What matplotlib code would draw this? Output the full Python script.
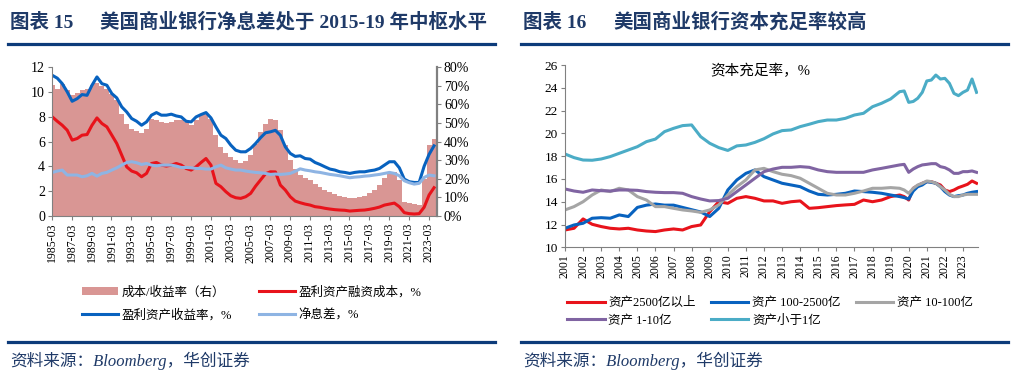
import numpy as np
import matplotlib.pyplot as plt
from matplotlib.lines import Line2D
from matplotlib.patches import Patch

plt.rcParams['font.family'] = ['Liberation Serif', 'Noto Sans CJK SC']

# ======================
# 1. DATA - left chart (half-yearly, 1985 - 2023)
# ======================
periods_l = 1985.2 + 0.5 * np.arange(78)

yield_rate = [11.33, 11.1, 10.66, 10.0, 9.24, 9.45, 9.78, 9.72, 10.53, 11.2,
              10.66, 10.53, 9.86, 9.51, 8.79, 8.38, 7.85, 7.63, 7.31, 7.58,
              8.12, 8.33, 8.12, 8.12, 8.2, 8.06, 7.98, 7.63, 7.58, 7.98,
              8.17, 8.33, 7.9, 7.18, 6.51, 6.24, 5.71, 5.3, 5.17, 5.17,
              5.44, 5.84, 6.3, 6.7, 6.78, 6.9, 6.5, 5.57, 5.04, 4.8,
              4.85, 4.63, 4.58, 4.31, 4.15, 3.96, 3.78, 3.7, 3.56, 3.51,
              3.43, 3.51, 3.56, 3.56, 3.64, 3.7, 3.83, 4.1, 4.37, 4.37,
              3.88, 2.97, 2.76, 2.7, 2.7, 4.0, 4.96, 5.65]

funding_cost = [7.98, 7.63, 7.31, 6.91, 6.11, 6.24, 6.51, 6.56, 7.31, 7.9,
                7.45, 7.18, 6.51, 5.84, 4.9, 3.96, 3.62, 3.48, 3.16, 3.43,
                4.23, 4.31, 4.1, 4.02, 4.1, 4.23, 4.1, 3.83, 3.7, 3.96,
                4.31, 4.63, 4.1, 2.63, 2.36, 1.96, 1.63, 1.47, 1.42, 1.55,
                1.82, 2.4, 2.9, 3.4, 3.56, 3.55, 2.49, 2.09, 1.55, 1.2,
                1.07, 0.96, 0.88, 0.75, 0.7, 0.62, 0.56, 0.51, 0.48, 0.46,
                0.4, 0.43, 0.46, 0.48, 0.54, 0.62, 0.72, 0.88, 0.96, 1.04,
                0.75, 0.27, 0.19, 0.16, 0.19, 0.7, 1.69, 2.28]

nim = [3.51, 3.62, 3.7, 3.3, 3.3, 3.3, 3.16, 3.24, 3.43, 3.21,
       3.43, 3.51, 3.7, 3.88, 4.1, 4.31, 4.37, 4.29, 4.15, 4.23,
       4.1, 4.04, 4.1, 4.1, 4.1, 4.02, 3.91, 3.91, 3.88, 3.83,
       3.83, 3.78, 3.78, 3.96, 4.1, 3.88, 3.78, 3.7, 3.7, 3.62,
       3.56, 3.51, 3.48, 3.43, 3.35, 3.38, 3.35, 3.38, 3.43, 3.6,
       3.8, 3.7, 3.64, 3.56, 3.51, 3.43, 3.35, 3.3, 3.24, 3.16,
       3.08, 3.13, 3.16, 3.21, 3.24, 3.3, 3.35, 3.43, 3.51, 3.43,
       3.24, 2.84, 2.68, 2.57, 2.63, 3.1, 3.3, 3.24]

cost_ratio = [70.5, 68.4, 71.1, 67.5, 65.2, 66.2, 67.5, 68, 70.2, 71.4,
              69.8, 68.4, 65.7, 62.1, 55, 49.6, 46.6, 45.5, 44.8, 46.6,
              52, 51.4, 50.5, 50.2, 50.5, 51.4, 51.4, 50.5, 49.1, 51.4,
              54.1, 55, 52.3, 43.4, 37.1, 33.6, 31.8, 30, 28.7, 29.5,
              32.7, 38.9, 45.2, 49.6, 52, 51.4, 46, 38, 30, 25.5,
              22, 20.2, 19.3, 17, 15.7, 13.9, 12.7, 11.6, 10.9, 10.4,
              9.8, 9.8, 10.2, 10.9, 12.1, 13.9, 16.6, 20.2, 23.4, 23.8,
              19.3, 7.7, 6.8, 6.25, 5.9, 20, 38, 41.6]

tick_years_l = list(range(1985, 2024, 2))

# ======================
# 2. DATA - right chart (capital adequacy ratio, %)
# ======================
periods_r = [2001.0 + 0.5 * i for i in range(38)] + [2019.75 + 0.25 * i for i in range(17)]

car_above_2500 = [11.52, 11.67, 12.49, 12.02, 11.82, 11.67, 11.61, 11.67, 11.52, 11.43,
                  11.38, 11.52, 11.61, 11.52, 11.82, 11.96, 13.13, 14.0, 13.86, 14.3,
                  14.45, 14.3, 14.07, 14.07, 13.86, 14.0, 14.07, 13.42, 13.48, 13.57,
                  13.66, 13.72, 13.77, 14.15, 14.0, 14.15, 14.45, 14.59,
                  14.45, 14.15, 15.18, 15.41, 15.62, 15.76, 15.76, 15.62, 15.47,
                  15.03, 14.89, 15.03, 15.24, 15.38, 15.53, 15.82, 15.62]

car_100_2500 = [11.67, 11.96, 12.11, 12.55, 12.6, 12.55, 12.84, 12.7, 13.5, 13.7,
                13.8, 13.7, 13.7, 13.5, 13.3, 13.1, 12.7, 13.42, 15.03, 15.91,
                16.49, 16.79, 16.2, 15.91, 15.62, 15.47, 15.32, 14.94, 14.65, 14.59,
                14.65, 14.74, 14.94, 14.89, 14.83, 14.74, 14.59, 14.45,
                14.36, 14.24, 14.94, 15.32, 15.47, 15.76, 15.7, 15.62, 15.32,
                14.89, 14.59, 14.45, 14.53, 14.59, 14.74, 14.83, 14.89]

car_10_100 = [13.28, 13.57, 14.0, 14.59, 15.03, 14.89, 15.18, 15.03, 14.45, 14.15,
              13.57, 13.57, 13.42, 13.28, 13.19, 13.07, 13.28, 13.72, 14.59, 15.32,
              15.91, 16.79, 16.93, 16.64, 16.41, 16.29, 16.06, 15.62, 15.18, 14.74,
              14.59, 14.59, 14.74, 14.94, 15.18, 15.18, 15.24, 15.18,
              15.03, 14.74, 15.18, 15.47, 15.62, 15.82, 15.76, 15.62, 15.32,
              15.03, 14.65, 14.45, 14.45, 14.59, 14.65, 14.65, 14.65]

car_1_10 = [15.12, 14.94, 14.83, 15.03, 14.97, 14.94, 15.03, 15.03, 15.0, 14.89,
            14.83, 14.8, 14.8, 14.74, 14.45, 14.24, 14.07, 14.1, 14.3, 14.89,
            15.47, 16.06, 16.64, 16.87, 17.02, 17.02, 17.08, 17.02, 16.79, 16.64,
            16.58, 16.58, 16.58, 16.58, 16.79, 16.93, 17.08, 17.23,
            17.28, 16.58, 16.87, 17.08, 17.23, 17.28, 17.34, 17.34, 17.08,
            16.99, 16.79, 16.49, 16.49, 16.64, 16.64, 16.7, 16.58]

car_below_1 = [18.19, 17.87, 17.66, 17.64, 17.75, 17.96, 18.25, 18.54, 18.83, 19.27,
               19.5, 20.15, 20.44, 20.68, 20.74, 19.71, 19.13, 18.75, 18.5, 18.9,
               18.98, 19.21, 19.53, 19.95, 20.24, 20.3, 20.59, 20.8, 21.03, 21.17,
               21.17, 21.32, 21.61, 21.76, 22.34, 22.64, 23.02, 23.66,
               23.72, 22.72, 22.8, 23.08, 23.6, 24.6, 24.68, 25.12, 24.77,
               24.83, 24.39, 23.51, 23.31, 23.6, 23.8, 24.77, 23.6]

tick_years_r = list(range(2001, 2024))

# ======================
# 3. STYLE
# ======================
W, H = 1022, 383
NAVY = '#1F3A68'
RULE = '#0D3B7A'
AREA_C = '#D99694'
RED = '#E8131B'
BLUE = '#0862BF'
LBLUE = '#8EB4E3'
GRAY = '#A5A5A5'
PURPLE = '#8064A2'
TEAL = '#4BACC6'
SPINE = '#808080'
LW = 2.2

fig = plt.figure(figsize=(W / 100, H / 100), dpi=100)


def fx(px):
    return px / W


def fy(py):
    return 1 - py / H


# headers, rules, sources
for x0, x1, num, title, tx in [(10, 495, '图表 15', '美国商业银行净息差处于 2015-19 年中枢水平', 100),
                              (523, 1008, '图表 16', '美国商业银行资本充足率较高', 613)]:
    fig.text(fx(x0), fy(22), num, fontsize=14, fontweight='bold', color=NAVY, va='center', ha='left')
    fig.text(fx(tx), fy(22), title, fontsize=14, fontweight='bold', color=NAVY, va='center', ha='left')
    fig.add_artist(Line2D([fx(x0 - 2), fx(x1)], [fy(44), fy(44)], color=RULE, lw=2.3))
    fig.add_artist(Line2D([fx(x0 - 2), fx(x1)], [fy(341.5), fy(341.5)], color=RULE, lw=2.3))
    fig.text(fx(x0), fy(361), '资料来源：Bloomberg，华创证券', fontsize=12, style='italic',
             color=NAVY, va='center', ha='left')

# ======================
# 4. LEFT CHART
# ======================
ax = fig.add_axes([fx(52), fy(216), fx(437 - 52), (216 - 67) / H])
ax2 = ax.twinx()
ax2.bar(periods_l, cost_ratio, width=0.5, color=AREA_C, linewidth=0)
ax.set_zorder(ax2.get_zorder() + 1)
ax.patch.set_visible(False)

ax.plot(periods_l, funding_cost, color=RED, lw=LW)
ax.plot(periods_l, yield_rate, color=BLUE, lw=LW)
ax.plot(periods_l, nim, color=LBLUE, lw=LW)

ax.set_xlim(1985.17, 2024.0)
ax.set_ylim(0, 12)
ax.set_yticks(range(0, 13, 2))
ax2.set_ylim(0, 80)
ax2.set_yticks(range(0, 81, 10))
ax2.set_yticklabels([f'{v}%' for v in range(0, 81, 10)])
ax.set_xticks([y + 2 / 12 for y in tick_years_l])
ax.set_xticklabels([f'{y}-03' for y in tick_years_l], rotation=90, fontsize=8.5)

for a in (ax, ax2):
    a.spines['top'].set_visible(False)
    for s in ('left', 'right', 'bottom'):
        a.spines[s].set_color(SPINE)
ax.spines['right'].set_visible(False)
ax2.spines['left'].set_visible(False)
ax2.spines['bottom'].set_visible(False)
ax2.spines['right'].set_linewidth(1.6)
ax.tick_params(axis='y', labelsize=10, length=3, color=SPINE, pad=2)
ax.tick_params(axis='x', length=3, color=SPINE, pad=2)
ax2.tick_params(axis='y', labelsize=10, length=3, color=SPINE, pad=2)

handles_l = [Patch(facecolor=AREA_C, edgecolor='none'),
             Line2D([], [], color=BLUE, lw=LW),
             Line2D([], [], color=RED, lw=LW),
             Line2D([], [], color=LBLUE, lw=LW)]
labels_l = ['成本/收益率（右）', '盈利资产收益率，%', '盈利资产融资成本，%', '净息差，%']
fig.legend(handles_l, labels_l, loc='upper left', bbox_to_anchor=(fx(82), fy(286)),
           ncol=2, frameon=False, fontsize=9, borderpad=0, borderaxespad=0,
           handlelength=2.9, handletextpad=0.3, columnspacing=2.1, labelspacing=0.85)

# ======================
# 5. RIGHT CHART
# ======================
axr = fig.add_axes([fx(565), fy(247.3), fx(978 - 565), (247.3 - 65) / H])
axr.plot(periods_r, car_above_2500, color=RED, lw=LW)
axr.plot(periods_r, car_100_2500, color=BLUE, lw=LW)
axr.plot(periods_r, car_10_100, color=GRAY, lw=LW)
axr.plot(periods_r, car_1_10, color=PURPLE, lw=LW)
axr.plot(periods_r, car_below_1, color=TEAL, lw=LW)

axr.set_xlim(2001.0, 2023.83)
axr.set_ylim(10, 26)
axr.set_yticks(range(10, 27, 2))
axr.set_xticks(tick_years_r)
axr.set_xticklabels([str(y) for y in tick_years_r], rotation=90, fontsize=8.5)
axr.spines['top'].set_visible(False)
axr.spines['right'].set_visible(False)
axr.spines['left'].set_color(SPINE)
axr.spines['bottom'].set_color(SPINE)
axr.tick_params(axis='y', labelsize=9.5, length=3, color=SPINE, pad=2)
axr.tick_params(axis='x', length=3, color=SPINE, pad=2)
axr.text(0.351, 0.967, '资本充足率，%', transform=axr.transAxes, fontsize=10.5,
         va='center', ha='left')

handles_r = [Line2D([], [], color=RED, lw=LW), Line2D([], [], color=PURPLE, lw=LW),
             Line2D([], [], color=BLUE, lw=LW), Line2D([], [], color=TEAL, lw=LW),
             Line2D([], [], color=GRAY, lw=LW)]
labels_r = ['资产2500亿以上', '资产 1-10亿', '资产 100-2500亿', '资产小于1亿', '资产 10-100亿']
fig.legend(handles_r, labels_r, loc='upper left', bbox_to_anchor=(fx(567), fy(297)),
           ncol=3, frameon=False, fontsize=9, borderpad=0, borderaxespad=0,
           handlelength=3.0, handletextpad=0.3, columnspacing=1.2, labelspacing=0.45)

fig.savefig('out.png', dpi=100)
